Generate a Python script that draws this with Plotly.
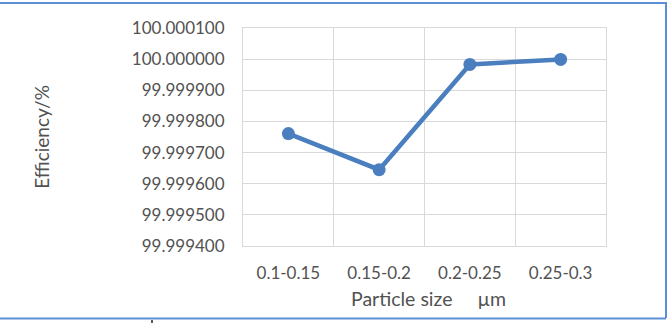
import plotly.graph_objects as go

categories = ["0.1-0.15", "0.15-0.2", "0.2-0.25", "0.25-0.3"]
efficiency = [99.999761, 99.999645, 99.999983, 99.999999]
y_ticks = [99.9994, 99.9995, 99.9996, 99.9997, 99.9998, 99.9999, 100.0000, 100.0001]
y_ticktext = ["%.6f" % v for v in y_ticks]

FONT = "Lato"
GREY = "#525252"
GRID = "#d9d9d9"
BLUE = "#4a7ebf"

fig = go.Figure()
fig.add_trace(go.Scatter(
    x=categories, y=efficiency, mode="lines+markers",
    line=dict(color=BLUE, width=4.5),
    marker=dict(color=BLUE, size=13),
    showlegend=False,
))

fig.update_layout(
    width=672, height=323,
    margin=dict(l=243, r=66, t=28, b=77),
    paper_bgcolor="white", plot_bgcolor="white",
    font=dict(family=FONT, color=GREY, size=17),
    xaxis=dict(
        type="category", tickson="boundaries", showgrid=True, gridcolor=GRID, gridwidth=1,
        showline=True, linecolor=GRID, linewidth=1, mirror=True,
        ticks="", ticklabelstandoff=12, tickfont=dict(size=17, color=GREY),
        range=[-0.5, 3.5], zeroline=False,
    ),
    yaxis=dict(
        range=[99.9994, 100.0001], tickvals=y_ticks, ticktext=y_ticktext,
        showgrid=True, gridcolor=GRID, gridwidth=1,
        showline=True, linecolor=GRID, linewidth=1, mirror=True,
        ticks="", ticklabelstandoff=14, tickfont=dict(size=17, color=GREY), zeroline=False,
    ),
    annotations=[
        dict(text="Efficiency/%", xref="paper", yref="paper", x=-0.557, y=0.5,
             textangle=-90, showarrow=False, font=dict(size=19, color=GREY, family=FONT),
             xanchor="center", yanchor="middle"),
        dict(text="Particle size\u00a0\u00a0\u00a0\u00a0\u00a0µm", xref="paper", yref="paper", x=0.51, y=-0.243,
             showarrow=False, font=dict(size=19.5, color=GREY, family=FONT),
             xanchor="center", yanchor="middle"),
    ],
    shapes=[
        dict(type="line", xref="paper", yref="paper", x0=-243/363, x1=1 + 60/363, y0=1 + 25/218, y1=1 + 25/218,
             line=dict(color="#5b8fd6", width=2)),
        dict(type="line", xref="paper", yref="paper", x0=1 + 60/363, x1=1 + 60/363, y0=-72/218, y1=1 + 26/218,
             line=dict(color="#5b8fd6", width=2)),
        dict(type="line", xref="paper", yref="paper", x0=-243/363, x1=1 + 60/363, y0=-72.5/218, y1=-72.5/218,
             line=dict(color="#5b8fd6", width=2)),
        dict(type="line", xref="paper", yref="paper", x0=-91/363, x1=-91/363, y0=-74/218, y1=-78/218,
             line=dict(color="#222222", width=1.5)),
    ],
)

fig.write_html("out.html")
